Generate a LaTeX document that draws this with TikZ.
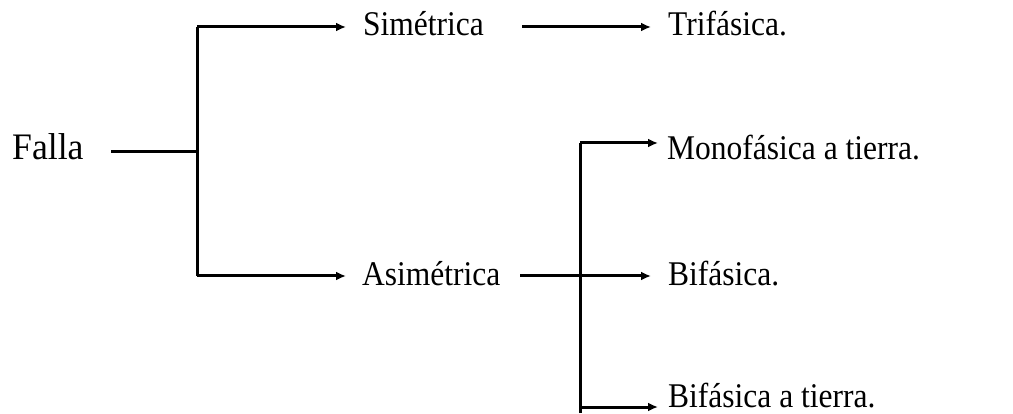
\documentclass[tikz,border=0pt]{standalone}
\usepackage{fontspec}
\setmainfont{Liberation Serif}
\usetikzlibrary{arrows.meta}
\begin{document}
\begin{tikzpicture}[x=1pt,y=1pt,
  lbl/.style={anchor=base west, inner sep=0pt, font=\fontsize{31.5}{36}\selectfont},
  conn/.style={line width=3pt, line join=miter},
  arr/.style={conn, -{Latex[length=10pt,width=9pt]}}]
\useasboundingbox (0,0) rectangle (1013,413);
% texts
\node[lbl, font=\fontsize{34}{40}\selectfont] (falla) at (12,253) {\scalebox{1.05}[1.1]{Falla}};
\node[lbl] (sim) at (363,377) {\scalebox{1}[1.1]{Simétrica}};
\node[lbl] (asim) at (362,128) {\scalebox{1}[1.1]{Asimétrica}};
\node[lbl] (tri) at (668,377) {\scalebox{1}[1.1]{Trifásica.}};
\node[lbl] (mono) at (667,253) {\scalebox{1}[1.1]{Monofásica a tierra.}};
\node[lbl] (bi) at (668,128) {\scalebox{1}[1.1]{Bifásica.}};
\node[lbl] (bit) at (668,6) {\scalebox{1}[1.1]{Bifásica a tierra.}};
% junction points
\coordinate (f0) at (111,261);
\coordinate (j1) at (197,261);
\coordinate (j1t) at (197,386);
\coordinate (j1b) at (197,137);
\coordinate (a1) at (346,386);
\coordinate (a2) at (346,137);
\coordinate (s0) at (522,386);
\coordinate (s1) at (651,386);
\coordinate (b0) at (520,137);
\coordinate (b1) at (651,137);
\coordinate (j2t) at (580,270);
\coordinate (j2b) at (580,6);
\coordinate (j2e) at (580,0);
\coordinate (m1) at (658,270);
\coordinate (t1) at (658,6);
% connectors
\draw[conn] (f0) -- (j1);
\draw[conn] (j1b) -- (j1t);
\draw[arr] (j1t) -- (a1);
\draw[arr] (j1b) -- (a2);
\draw[arr] (s0) -- (s1);
\draw[arr] (b0) -- (b1);
\draw[conn] (j2e) -- (j2t);
\draw[arr] (j2t) -- (m1);
\draw[arr] (j2b) -- (t1);
\end{tikzpicture}
\end{document}
